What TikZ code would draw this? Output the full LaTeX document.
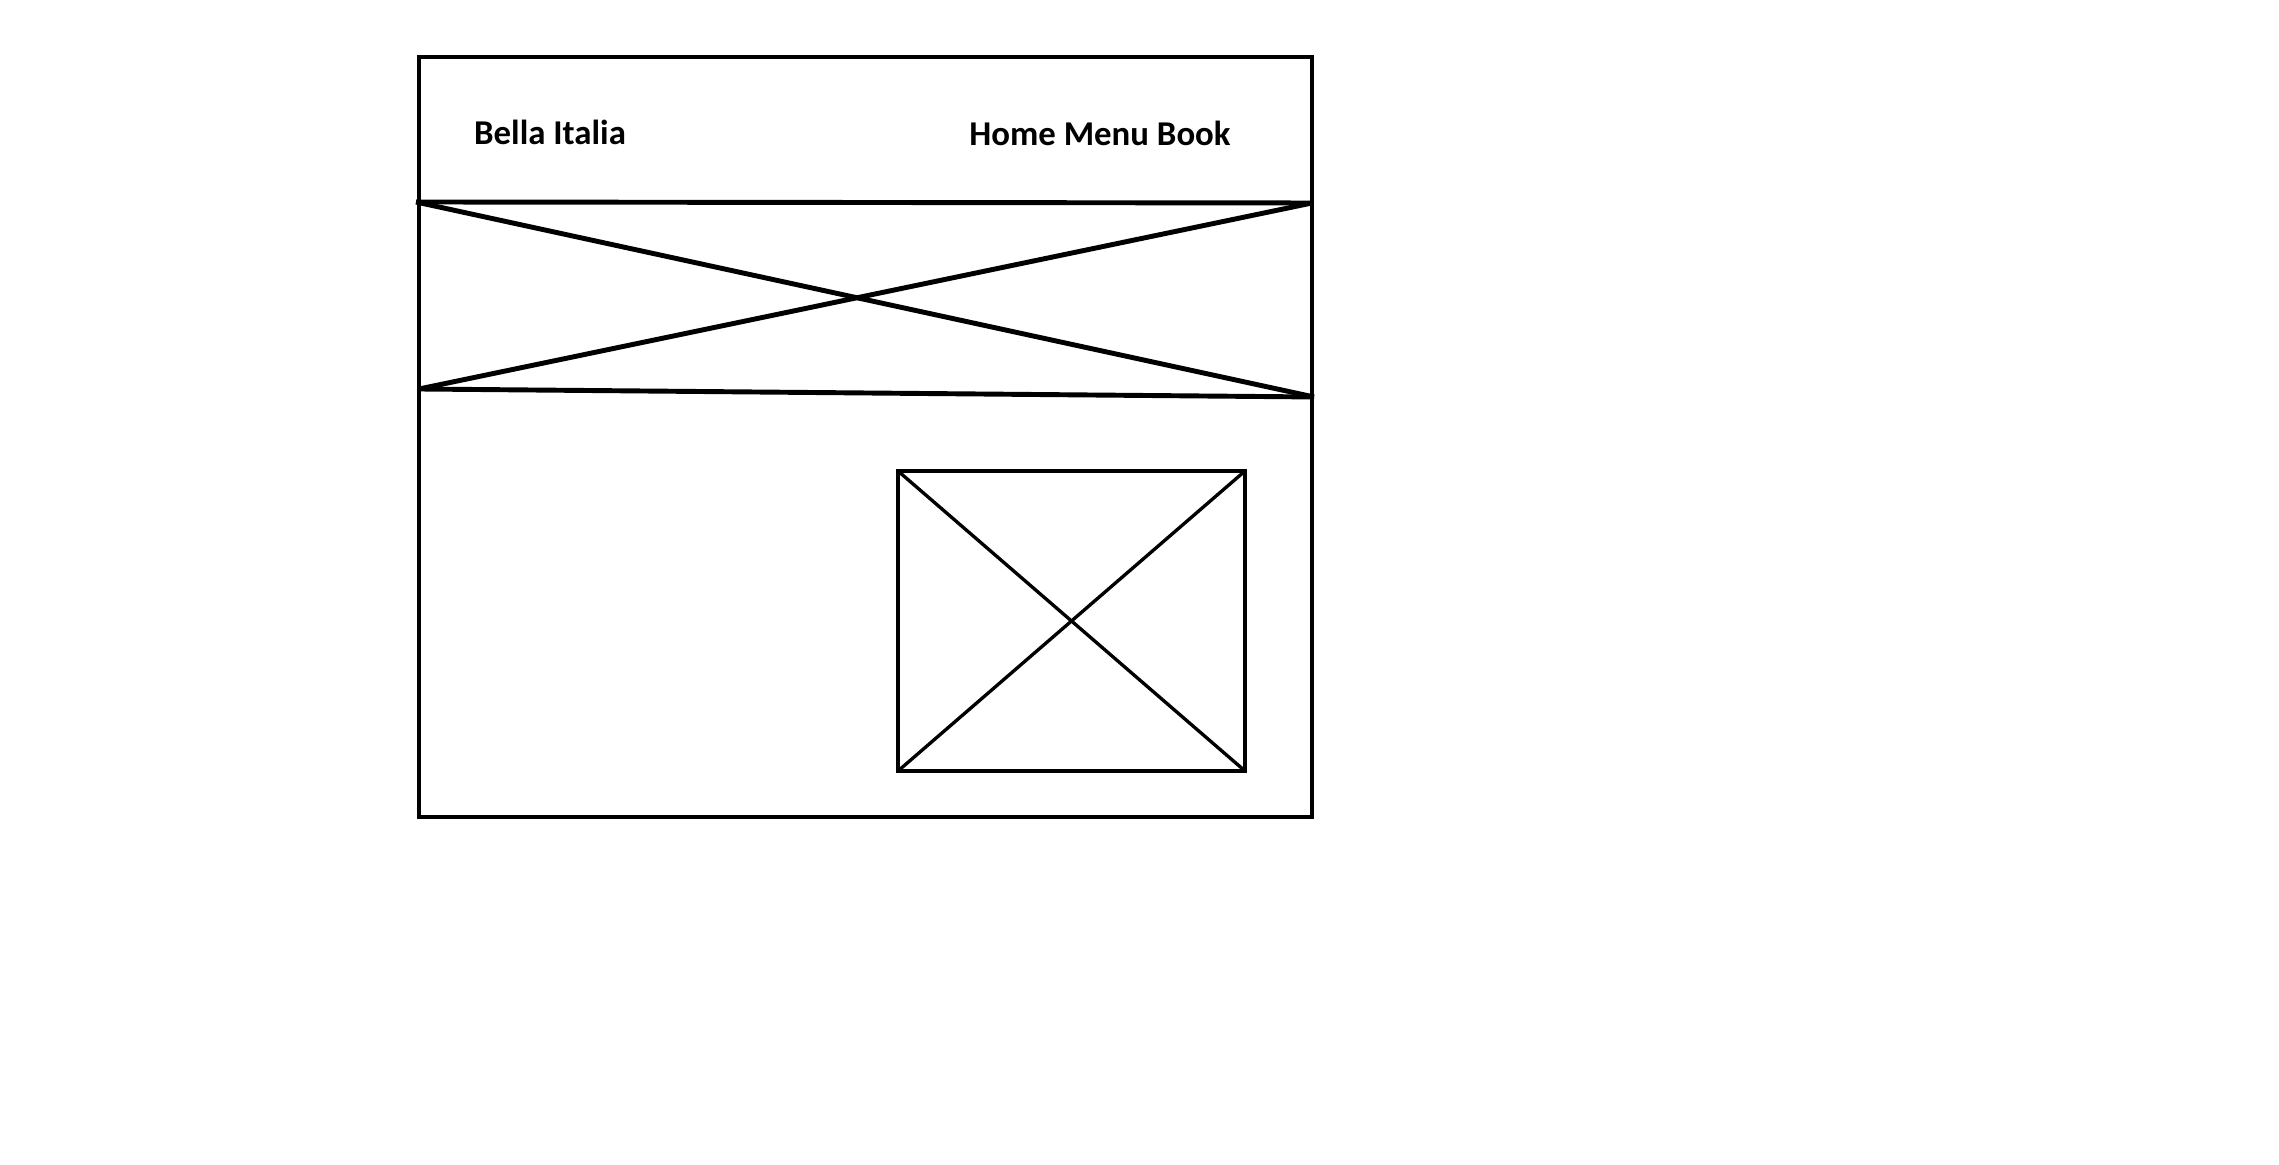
\documentclass[tikz,border=0pt]{standalone}
\usepackage{fontspec}
\setmainfont{Carlito}
\begin{document}
\begin{tikzpicture}[x=0.01cm,y=-0.01cm,line width=1.4pt]
        \useasboundingbox (0,0) rectangle (2279,1165);
        %Page
        \draw (419,57) rectangle (1312,817);
        %Header
        \node[font=\fontsize{9.9}{12}\selectfont\bfseries] (title) at (550,132) {Bella Italia};
        \node[font=\fontsize{9.9}{12}\selectfont\bfseries] (nav) at (1100,133) {Home Menu Book};
        %Banner
        \coordinate (bannerTL) at (416,202);
        \coordinate (bannerTR) at (1312,203);
        \coordinate (bannerBL) at (419,389);
        \coordinate (bannerBR) at (1314,397);
        \draw (bannerTL) -- (bannerTR);
        \draw (bannerBL) -- (bannerBR);
        \draw (bannerTL) -- (bannerBR);
        \draw (bannerBL) -- (bannerTR);
        %Picture
        \draw[line width=1.2pt] (898,471) rectangle (1245,771);
        \draw[line width=.95pt] (898,471) -- (1245,771);
        \draw[line width=.95pt] (898,771) -- (1245,471);
    \end{tikzpicture}
\end{document}
